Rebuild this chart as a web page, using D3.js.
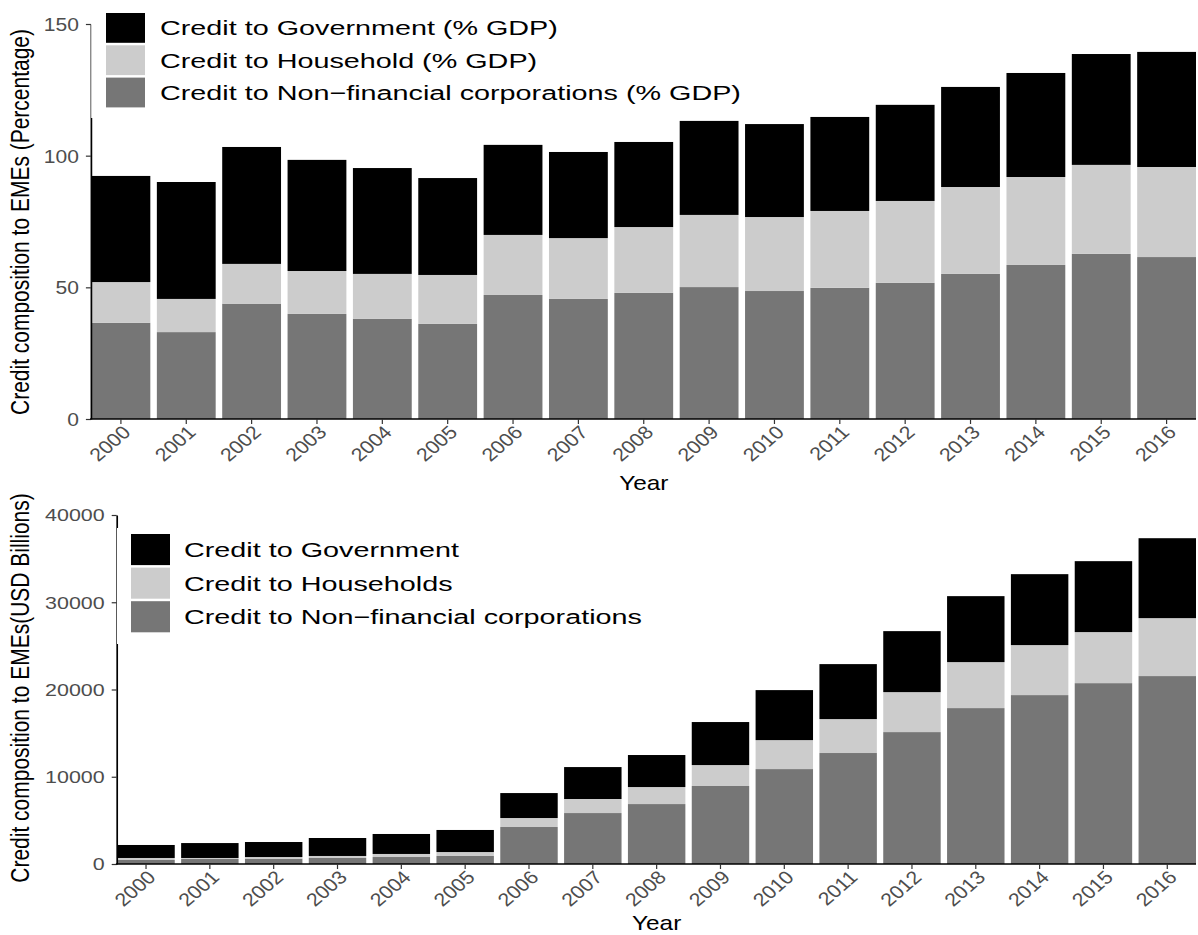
<!DOCTYPE html>
<html>
<head>
<meta charset="utf-8">
<script src="https://cdn.jsdelivr.net/npm/d3@7/dist/d3.min.js"></script>
<style>
  html, body { margin: 0; padding: 0; background: #fff; }
  svg { display: block; font-family: "Liberation Sans", Arial, Helvetica, sans-serif; }
</style>
</head>
<body>
<svg id="chart" width="1198" height="935"></svg>
<script>
// ---------- data ----------
const years = ["2000","2001","2002","2003","2004","2005","2006","2007","2008","2009","2010","2011","2012","2013","2014","2015","2016"];

// Chart 1: credit composition, % of GDP
const pctNFC = [36.5, 33.0, 43.8, 39.9, 38.0, 36.1, 47.1, 45.6, 47.9, 50.1, 48.6, 49.8, 51.7, 55.1, 58.5, 62.7, 61.5];
const pctHH  = [15.5, 12.6, 15.1, 16.3, 17.1, 18.6, 22.8, 23.1, 25.0, 27.4, 28.1, 29.2, 31.1, 33.0, 33.4, 33.8, 34.2];
const pctGov = [40.3, 44.4, 44.4, 42.2, 40.2, 36.8, 34.2, 32.7, 32.3, 35.7, 35.3, 35.7, 36.5, 38.0, 39.5, 42.1, 43.7];
const pctTicks = [0, 50, 100, 150];
const pctLegend = ["Credit to Government (% GDP)", "Credit to Household (% GDP)", "Credit to Non\u2212financial corporations (% GDP)"];

// Chart 2: credit composition, USD billions
const usdNFC = [460, 570, 610, 690, 800, 920, 4240, 5840, 6870, 8940, 10880, 12720, 15120, 17870, 19360, 20730, 21540];
const usdHH  = [230, 120, 190, 230, 350, 450, 1030, 1610, 1950, 2400, 3320, 3890, 4580, 5270, 5730, 5850, 6640];
const usdGov = [1490, 1710, 1720, 2060, 2290, 2530, 2860, 3660, 3670, 4930, 5730, 6300, 6990, 7560, 8130, 8130, 9160];
const usdTicks = [0, 10000, 20000, 30000, 40000];
const usdLegend = ["Credit to Government", "Credit to Households", "Credit to Non\u2212financial corporations"];

const seriesKeys = ["nfc", "hh", "gov"];
const colors = { gov: "#000000", hh: "#cccccc", nfc: "#767676" };
const legendOrder = ["gov", "hh", "nfc"];

const svg = d3.select("#chart");

function drawChart(cfg) {
  const g = svg.append("g");
  const rows = years.map((yr, i) => ({ year: yr, nfc: cfg.nfc[i], hh: cfg.hh[i], gov: cfg.gov[i] }));
  const stacked = d3.stack().keys(seriesKeys)(rows);

  const x = d3.scaleBand().domain(years).range([cfg.left, cfg.right]).paddingInner(0.1).paddingOuter(0);
  const y = d3.scaleLinear().domain([0, cfg.ticks[cfg.ticks.length - 1]]).range([cfg.bottom, cfg.top]);

  // bars
  g.append("g").selectAll("g").data(stacked).join("g")
    .attr("fill", d => colors[d.key])
    .selectAll("rect").data(d => d).join("rect")
      .attr("x", d => x(d.data.year))
      .attr("width", x.bandwidth())
      .attr("y", d => y(d[1]))
      .attr("height", d => y(d[0]) - y(d[1]));

  // y axis
  const ya = g.append("g").attr("transform", `translate(${cfg.left - 0.6},0)`)
    .call(d3.axisLeft(y).tickValues(cfg.ticks).tickSize(5).tickSizeOuter(0).tickFormat(d3.format("d")));
  ya.select(".domain").attr("stroke", "#000").attr("stroke-width", 1.7);
  ya.selectAll(".tick line").attr("stroke", "#333").attr("stroke-width", 1.2);
  ya.selectAll(".tick text")
    .attr("x", null).attr("dy", "0.36em")
    .attr("transform", `translate(${-cfg.yTickPad},0) scale(${cfg.yTickSx},1)`)
    .attr("fill", "#4d4d4d").style("font-size", cfg.yTickSize + "px")
    .attr("text-anchor", "end");

  // x axis
  const xa = g.append("g").attr("transform", `translate(0,${cfg.bottom})`)
    .call(d3.axisBottom(x).tickSize(5).tickSizeOuter(0));
  xa.select(".domain").attr("stroke", "#000").attr("stroke-width", 1.7)
    .attr("d", `M${cfg.left - 1.4},0H${cfg.right}`);
  xa.selectAll(".tick line").attr("stroke", "#333").attr("stroke-width", 1.2);
  xa.selectAll(".tick text")
    .attr("y", null).attr("dy", "0.72em")
    .attr("transform", `translate(${cfg.xTickDx},${cfg.xTickDy}) scale(${cfg.xTickSx},1) rotate(-45)`)
    .attr("fill", "#4d4d4d").style("font-size", cfg.xTickSize + "px")
    .attr("text-anchor", "end");

  // axis titles
  g.append("text")
    .attr("transform", `translate(${(cfg.left + cfg.right) / 2},${cfg.xTitleY}) scale(${cfg.xTitleSx},1)`)
    .attr("text-anchor", "middle").style("font-size", cfg.titleSize + "px").attr("fill", "#000")
    .text("Year");
  g.append("text")
    .attr("transform", `translate(${cfg.yTitleX},${cfg.yTitleY}) scale(${cfg.yTitleSx},1) rotate(-90)`)
    .attr("text-anchor", "middle").style("font-size", cfg.titleSize + "px").attr("fill", "#000")
    .text(cfg.yTitle);

  // legend (white background overlapping the panel)
  const lg = g.append("g");
  lg.append("rect")
    .attr("x", cfg.left - 0.3).attr("y", cfg.legTop - 6)
    .attr("width", cfg.legW).attr("height", cfg.legBottom - cfg.legTop + 6)
    .attr("fill", "#fff");
  legendOrder.forEach((k, i) => {
    const ky = cfg.legTop + i * cfg.legStep;
    lg.append("rect")
      .attr("x", cfg.legKeyX).attr("y", ky)
      .attr("width", cfg.legKeyW).attr("height", cfg.legStep - 2.5)
      .attr("fill", colors[k]);
    lg.append("text")
      .attr("transform", `translate(${cfg.legTextX},${ky + (cfg.legStep - 2.5) / 2}) scale(${cfg.legSx},1)`)
      .attr("dy", "0.36em").style("font-size", cfg.legSize + "px").attr("fill", "#000")
      .text(cfg.legend[i]);
  });
}

drawChart({
  nfc: pctNFC, hh: pctHH, gov: pctGov, ticks: pctTicks, legend: pctLegend,
  left: 91.5, right: 1196, top: 24, bottom: 419,
  yTickPad: 12, yTickSx: 1.17, yTickSize: 18,
  xTickDx: 0, xTickDy: 5, xTickSx: 1.15, xTickSize: 18.5,
  xTitleY: 490, xTitleSx: 1.16, titleSize: 21,
  yTitleX: 29, yTitleY: 222, yTitleSx: 1.22,
  yTitle: "Credit composition to EMEs (Percentage)",
  legTop: 13, legBottom: 118, legStep: 32.3, legW: 680,
  legKeyX: 106, legKeyW: 39, legTextX: 160, legSx: 1.37, legSize: 21
});

drawChart({
  nfc: usdNFC, hh: usdHH, gov: usdGov, ticks: usdTicks, legend: usdLegend,
  left: 117.3, right: 1196, top: 515, bottom: 864,
  yTickPad: 12, yTickSx: 1.3, yTickSize: 16.5,
  xTickDx: 0, xTickDy: 5, xTickSx: 1.15, xTickSize: 18.5,
  xTitleY: 930, xTitleSx: 1.16, titleSize: 21,
  yTitleX: 29, yTitleY: 688, yTitleSx: 1.22,
  yTitle: "Credit composition to EMEs(USD Billions)",
  legTop: 534, legBottom: 644, legStep: 33.6, legW: 560,
  legKeyX: 131, legKeyW: 39, legTextX: 184, legSx: 1.37, legSize: 21
});
</script>
</body>
</html>
